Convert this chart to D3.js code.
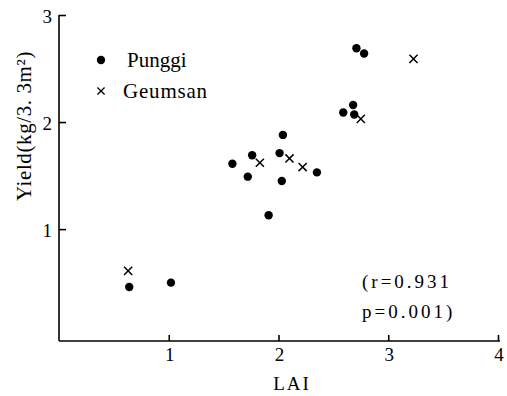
<!DOCTYPE html>
<html>
<head>
<meta charset="utf-8">
<script src="https://cdn.jsdelivr.net/npm/d3@7"></script>
<style>
  body { margin: 0; background: #fff; }
  text { font-family: "Liberation Serif", "DejaVu Serif", serif; fill: #000; }
</style>
</head>
<body>
<div id="chart"></div>
<script>
// LAI vs yield
const punggiLAI   = [2.71, 2.78, 2.68, 2.59, 2.69, 2.04, 1.76, 1.58, 2.01, 2.35, 1.72, 2.03, 1.91, 0.64, 1.02];
const punggiYield = [2.69, 2.64, 2.16, 2.09, 2.07, 1.88, 1.69, 1.61, 1.71, 1.53, 1.49, 1.45, 1.13, 0.46, 0.50];
const geumsanLAI   = [3.23, 2.75, 1.83, 2.10, 2.22, 0.63];
const geumsanYield = [2.59, 2.03, 1.62, 1.66, 1.58, 0.61];
const xTicks = [1, 2, 3, 4];
const yTicks = [1, 2, 3];

const width = 507;
const height = 396;

const xScale = d3.scaleLinear().domain([0, 4]).range([59, 498]);
const yScale = d3.scaleLinear().domain([-0.045, 3]).range([341, 15]);

const svg = d3.select("#chart")
    .append("svg")
    .attr("width", width)
    .attr("height", height);

// Axes (ticks point inward)
const xAxis = d3.axisTop(xScale).tickValues(xTicks).tickSize(6).tickFormat("");
const gx = svg.append("g")
    .attr("transform", `translate(0, ${yScale(-0.045)})`)
    .call(xAxis);
gx.select(".domain").attr("d", `M${xScale(0)},0H${xScale(4) + 2}`);
gx.selectAll("text").remove();

const yAxis = d3.axisRight(yScale).tickValues(yTicks).tickSize(7).tickFormat("");
const gy = svg.append("g")
    .attr("transform", `translate(${xScale(0)}, 0)`)
    .call(yAxis);
gy.select(".domain").attr("d", `M0,${yScale(-0.045)}V${yScale(3)}`);

svg.selectAll(".domain, .tick line")
    .attr("stroke", "#000")
    .attr("stroke-width", 1.6);

// Tick labels
svg.selectAll(".xlab")
    .data(xTicks)
    .enter()
    .append("text")
    .attr("x", d => xScale(d) + 1)
    .attr("y", 361)
    .attr("text-anchor", "middle")
    .attr("font-size", 19)
    .text(d => d);

svg.selectAll(".ylab")
    .data(yTicks)
    .enter()
    .append("text")
    .attr("x", xScale(0) - 7)
    .attr("y", d => yScale(d) + 8)
    .attr("text-anchor", "end")
    .attr("font-size", 19)
    .text(d => d);

// Axis titles
svg.append("text")
    .attr("x", 292)
    .attr("y", 390)
    .attr("text-anchor", "middle")
    .attr("font-size", 19)
    .attr("letter-spacing", 2)
    .text("LAI");

svg.append("text")
    .attr("transform", "translate(31, 126) rotate(-90)")
    .attr("text-anchor", "middle")
    .attr("font-size", 21)
    .attr("letter-spacing", 0.6)
    .text("Yield(kg/3. 3m²)");

// Points
svg.selectAll(".dot")
    .data(punggiLAI)
    .enter()
    .append("circle")
    .attr("cx", d => xScale(d))
    .attr("cy", (d, i) => yScale(punggiYield[i]))
    .attr("r", 4.2)
    .attr("fill", "#000");

const cross = d3.symbol().type(d3.symbolX).size(45);
svg.selectAll(".cross")
    .data(geumsanLAI)
    .enter()
    .append("path")
    .attr("d", cross)
    .attr("transform", (d, i) => `translate(${xScale(d)}, ${yScale(geumsanYield[i])})`)
    .attr("fill", "none")
    .attr("stroke", "#000")
    .attr("stroke-width", 1.5);

// Legend
svg.append("circle")
    .attr("cx", 101).attr("cy", 60).attr("r", 4.2).attr("fill", "#000");
svg.append("text")
    .attr("x", 127).attr("y", 67).attr("font-size", 21).text("Punggi");
svg.append("path")
    .attr("d", d3.symbol().type(d3.symbolX).size(35))
    .attr("transform", "translate(101, 91)")
    .attr("fill", "none").attr("stroke", "#000").attr("stroke-width", 1.3);
svg.append("text")
    .attr("x", 123).attr("y", 98).attr("font-size", 21).attr("letter-spacing", 0.8).text("Geumsan");

// Statistics
svg.append("text")
    .attr("x", 362).attr("y", 288).attr("font-size", 19).attr("letter-spacing", 3)
    .text("(r=0.931");
svg.append("text")
    .attr("x", 362).attr("y", 318).attr("font-size", 19).attr("letter-spacing", 3)
    .text("p=0.001)");
</script>
</body>
</html>
